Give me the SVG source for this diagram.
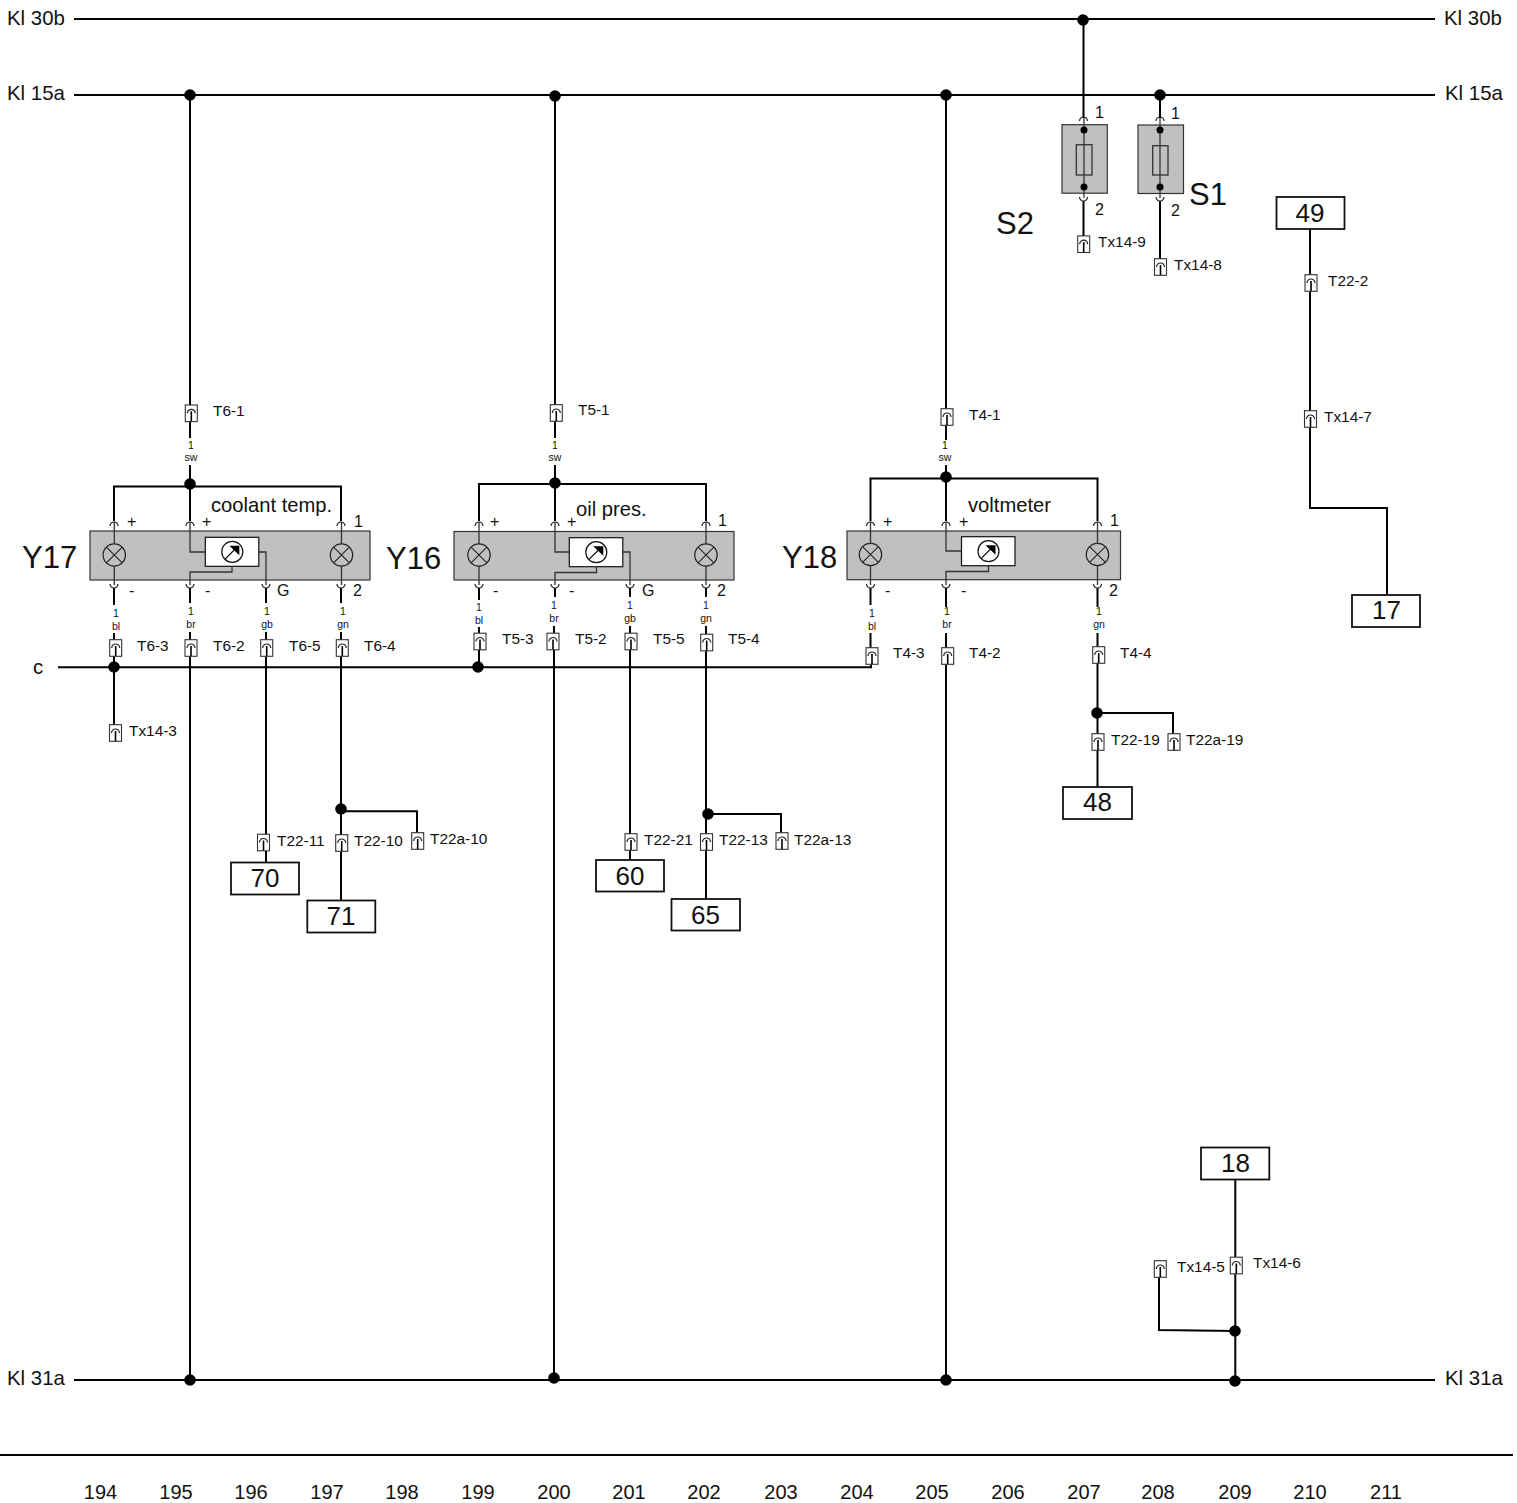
<svg xmlns="http://www.w3.org/2000/svg" width="1517" height="1503" viewBox="0 0 1517 1503">
<style>
text{font-family:"Liberation Sans",Arial,sans-serif;fill:#111}
.w{fill:none;stroke:#000;stroke-width:2}
.t{fill:none;stroke:#333;stroke-width:1.3}
.m{fill:#c0c0c0;stroke:#333;stroke-width:1.2}
.b{fill:#fff;stroke:#111;stroke-width:1.8}
.rail{font-size:20.400px}.tl{font-size:15.400px}.pin{font-size:16px}.wl{font-size:10.500px}.ruler{font-size:20px}.ref{font-size:26px}.big{font-size:31px}.cap{font-size:20.200px}
</style>
<defs>
<g id="conn"><rect x="-6" y="-8.300" width="12" height="16.600" fill="#fff" stroke="#333" stroke-width="1.100"/><path d="M-4 0A4 4 0 0 1 4 0" fill="none" stroke="#222" stroke-width="1.200"/><path d="M0 -2V8" stroke="#000" stroke-width="1.600"/></g>
<g id="lamp"><circle r="11.200" fill="none" stroke="#222" stroke-width="1.200"/><path d="M-7.900 -7.900L7.900 7.900M-7.900 7.900L7.900 -7.900" stroke="#222" stroke-width="1.100"/></g>
<g id="gauge"><rect width="53.500" height="29" fill="#fff" stroke="#111" stroke-width="1.200"/><circle cx="27" cy="14.500" r="10.500" fill="#fff" stroke="#111" stroke-width="1.200"/><path d="M19.500 22L30 11.500" stroke="#000" stroke-width="1.200"/><path d="M24 8.500H34V18Z" fill="#000"/></g>
<path id="up" d="M-4 4A4 4 0 0 1 4 4" fill="none" stroke="#222" stroke-width="1.200"/>
<path id="dn" d="M-4 -4A4 4 0 0 0 4 -4" fill="none" stroke="#222" stroke-width="1.200"/>
<circle id="dot" r="5.800" fill="#000"/>
<circle id="dots" r="3.500" fill="#000"/>
</defs>
<g id="connectors">
<path class="w" d="M74 19H1435M74 95H1435M74 1380H1435"/>
<path d="M0 1455H1513" stroke="#000" stroke-width="2"/>
<path class="w" d="M190 95V405M190 421V438M190 465V521M114 521V486.500H341V521"/>
<path class="w" d="M555 96V405M555 421V438M555 465V521M479 521V484H706V521"/>
<path class="w" d="M946 95V409M946 425V440M946 465V521M870.500 521V478.500H1097.500V521"/>
<path class="w" d="M114 588V605M190 588V603M266 588V603M341 588V603M114 633V640M190 632V640M266 632V640M341 632V640"/>
<path class="w" d="M479 588V600M555 588V597M630 588V597M706 588V597M479 627V633M554 626V633M630 626V633M706 626V634"/>
<path class="w" d="M870.500 588V605M946 588V607M1097.500 588V607M870.500 633V648M946 633V648M1097.500 633V647"/>
<path class="w" d="M58 667.300H871V664M114 656V725M190 656V1380M266 656V835M266 851V862M341 656V835M341 851V900M341 811.300H417V833"/>
<path class="w" d="M479 650V667M554 650V1378M630 650V834M630 850V860M706 651V834M706 850V899M706 814H781V833"/>
<path class="w" d="M946 664V1380M1097.500 663V734M1097.500 750V787M1097 713H1173V734"/>
<path class="w" d="M1083.500 19V118M1083.500 201V236M1160 95V118M1160 201V259"/>
<path class="w" d="M1310 229V275M1310 291V411M1310 427V508H1387V595"/>
<path class="w" d="M1235.300 1179V1257M1235.300 1274V1381M1159 1277V1330L1235 1331"/>
<g id="junctions">
<use href="#dot" x="1083" y="20"/><use href="#dot" x="1160" y="95"/><use href="#dot" x="190" y="95"/><use href="#dot" x="555" y="96"/><use href="#dot" x="946" y="95"/>
<use href="#dot" x="190" y="1380"/><use href="#dot" x="554" y="1378"/><use href="#dot" x="946" y="1380"/><use href="#dot" x="1235" y="1381"/><use href="#dot" x="1235" y="1331"/>
<use href="#dot" x="190" y="484"/><use href="#dot" x="555" y="483"/><use href="#dot" x="946" y="477"/>
<use href="#dot" x="114" y="667"/><use href="#dot" x="478" y="667"/>
<use href="#dot" x="341" y="809"/><use href="#dot" x="708" y="814"/><use href="#dot" x="1097" y="713"/>
</g>
</g>
<g id="rail-labels" class="rail">
<text x="7" y="25">Kl 30b</text><text x="1444" y="25">Kl 30b</text>
<text x="7" y="100">Kl 15a</text><text x="1445" y="100">Kl 15a</text>
<text x="7" y="1385">Kl 31a</text><text x="1445" y="1385">Kl 31a</text>
<text x="33" y="674">c</text>
</g>
<g id="Y17">
<rect class="m" x="90" y="531" width="280" height="49"/>
<use href="#gauge" x="205.300" y="537.300"/>
<use href="#lamp" x="114.300" y="555"/><use href="#lamp" x="341.500" y="555"/>
<path class="t" d="M114.300 522V544M114.300 566V585M341.500 522V544M341.500 566V585M190 522V552H205M190 585V572H232V566M258.800 552H266V585"/>
<use href="#up" x="114" y="522"/><use href="#up" x="190" y="522"/><use href="#up" x="341" y="522"/>
<use href="#dn" x="114" y="588"/><use href="#dn" x="190" y="588"/><use href="#dn" x="266" y="588"/><use href="#dn" x="341" y="588"/>
<text class="cap" x="211" y="512">coolant temp.</text>
<text class="big" x="22" y="568">Y17</text>
<g class="pin"><text x="127" y="527">+</text><text x="202" y="527">+</text><text x="354" y="527">1</text>
<text x="129" y="596">-</text><text x="205" y="596">-</text><text x="277" y="596">G</text><text x="353" y="596">2</text></g>
</g>
<g id="Y16">
<rect class="m" x="454" y="531.500" width="280" height="48.500"/>
<use href="#gauge" x="569.300" y="537.700"/>
<use href="#lamp" x="479" y="555"/><use href="#lamp" x="706" y="555"/>
<path class="t" d="M479 522V544M479 566V585M706 522V544M706 566V585M555 522V552H569M555 585V572.500H596.500V567M623 552H630V585"/>
<use href="#up" x="479" y="522"/><use href="#up" x="555" y="522"/><use href="#up" x="706" y="522"/>
<use href="#dn" x="479" y="588"/><use href="#dn" x="555" y="588"/><use href="#dn" x="630" y="588"/><use href="#dn" x="706" y="588"/>
<text class="cap" x="576" y="516">oil pres.</text>
<text class="big" x="386" y="569">Y16</text>
<g class="pin"><text x="490" y="527">+</text><text x="567" y="527">+</text><text x="718" y="526">1</text>
<text x="493" y="596">-</text><text x="569" y="596">-</text><text x="642" y="596">G</text><text x="717" y="596">2</text></g>
</g>
<g id="Y18">
<rect class="m" x="847" y="531" width="273.500" height="48.700"/>
<use href="#gauge" x="961.500" y="536.700"/>
<use href="#lamp" x="870.500" y="554.500"/><use href="#lamp" x="1097.500" y="554.500"/>
<path class="t" d="M870.500 522V543M870.500 566V585M1097.500 522V543M1097.500 566V585M946 522V551H961M946 585V571.500H988.500V566"/>
<use href="#up" x="870.500" y="522"/><use href="#up" x="946" y="522"/><use href="#up" x="1097.500" y="522"/>
<use href="#dn" x="870.500" y="588"/><use href="#dn" x="946" y="588"/><use href="#dn" x="1097.500" y="588"/>
<text class="cap" x="968" y="512">voltmeter</text>
<text class="big" x="782" y="568">Y18</text>
<g class="pin"><text x="883" y="527">+</text><text x="959" y="527">+</text><text x="1110" y="526">1</text>
<text x="885" y="596">-</text><text x="961" y="596">-</text><text x="1109" y="596">2</text></g>
</g>
<g id="wire-labels" class="wl" text-anchor="middle">
<text x="191" y="449">1</text><text x="191" y="461">sw</text><text x="555" y="449">1</text><text x="555" y="461">sw</text><text x="945" y="449">1</text><text x="945" y="461">sw</text>
<text x="116" y="617">1</text><text x="116" y="630">bl</text><text x="191" y="615">1</text><text x="191" y="628">br</text><text x="267" y="615">1</text><text x="267" y="628">gb</text><text x="343" y="615">1</text><text x="343" y="628">gn</text>
<text x="479" y="611">1</text><text x="479" y="624">bl</text><text x="554" y="609">1</text><text x="554" y="622">br</text><text x="630" y="609">1</text><text x="630" y="622">gb</text><text x="706" y="609">1</text><text x="706" y="622">gn</text>
<text x="872" y="617">1</text><text x="872" y="630">bl</text><text x="947" y="615">1</text><text x="947" y="628">br</text><text x="1099" y="615">1</text><text x="1099" y="628">gn</text>
</g>
<g id="terminals" class="tl">
<g id="T6-1"><use href="#conn" x="191.300" y="413.300"/><text x="213" y="416">T6-1</text></g>
<g id="T5-1"><use href="#conn" x="556.300" y="413"/><text x="578" y="415">T5-1</text></g>
<g id="T4-1"><use href="#conn" x="947" y="417"/><text x="969" y="420">T4-1</text></g>
<g id="T6-3"><use href="#conn" x="115.700" y="648"/><text x="137" y="651">T6-3</text></g>
<g id="T6-2"><use href="#conn" x="191" y="648"/><text x="213" y="651">T6-2</text></g>
<g id="T6-5"><use href="#conn" x="266.700" y="648"/><text x="289" y="651">T6-5</text></g>
<g id="T6-4"><use href="#conn" x="342.300" y="648"/><text x="364" y="651">T6-4</text></g>
<g id="T5-3"><use href="#conn" x="480" y="641.500"/><text x="502" y="644">T5-3</text></g>
<g id="T5-2"><use href="#conn" x="553" y="641.500"/><text x="575" y="644">T5-2</text></g>
<g id="T5-5"><use href="#conn" x="631" y="641.500"/><text x="653" y="644">T5-5</text></g>
<g id="T5-4"><use href="#conn" x="706.700" y="642.500"/><text x="728" y="644">T5-4</text></g>
<g id="T4-3"><use href="#conn" x="872" y="656"/><text x="893" y="658">T4-3</text></g>
<g id="T4-2"><use href="#conn" x="947.700" y="656"/><text x="969" y="658">T4-2</text></g>
<g id="T4-4"><use href="#conn" x="1098.700" y="655"/><text x="1120" y="658">T4-4</text></g>
<g id="Tx14-3"><use href="#conn" x="115.500" y="733"/><text x="129" y="736">Tx14-3</text></g>
<g id="T22-11"><use href="#conn" x="263.500" y="842.500"/><text x="277" y="846">T22-11</text></g>
<g id="T22-10"><use href="#conn" x="341.700" y="843"/><text x="354" y="846">T22-10</text></g>
<g id="T22a-10"><use href="#conn" x="417.700" y="841"/><text x="430" y="844">T22a-10</text></g>
<g id="T22-21"><use href="#conn" x="631" y="842"/><text x="644" y="845">T22-21</text></g>
<g id="T22-13"><use href="#conn" x="706.500" y="842"/><text x="719" y="845">T22-13</text></g>
<g id="T22a-13"><use href="#conn" x="782" y="841"/><text x="794" y="845">T22a-13</text></g>
<g id="T22-19"><use href="#conn" x="1098" y="742"/><text x="1111" y="745">T22-19</text></g>
<g id="T22a-19"><use href="#conn" x="1174" y="742"/><text x="1186" y="745">T22a-19</text></g>
<g id="Tx14-9"><use href="#conn" x="1083.700" y="244.200"/><text x="1098" y="247">Tx14-9</text></g>
<g id="Tx14-8"><use href="#conn" x="1160.500" y="267"/><text x="1174" y="270">Tx14-8</text></g>
<g id="T22-2"><use href="#conn" x="1311" y="283"/><text x="1328" y="286">T22-2</text></g>
<g id="Tx14-7"><use href="#conn" x="1310.500" y="419"/><text x="1324" y="422">Tx14-7</text></g>
<g id="Tx14-5"><use href="#conn" x="1160.300" y="1269"/><text x="1177" y="1272">Tx14-5</text></g>
<g id="Tx14-6"><use href="#conn" x="1236.300" y="1265.500"/><text x="1253" y="1268">Tx14-6</text></g>
</g>
<g id="S2">
<rect class="m" x="1062" y="124.700" width="45.300" height="68.500"/><rect class="t" x="1076.300" y="144.700" width="15.700" height="30.300"/>
<path class="t" d="M1084 118V198"/><use href="#up" x="1083.500" y="117"/><use href="#dn" x="1083.500" y="201"/><use href="#dots" x="1084" y="130"/><use href="#dots" x="1084" y="187"/>
<text class="pin" x="1095" y="118">1</text><text class="pin" x="1095" y="215">2</text><text class="big" x="996" y="234">S2</text>
</g>
<g id="S1">
<rect class="m" x="1138" y="125" width="45.500" height="68.500"/><rect class="t" x="1152.700" y="145.700" width="15.300" height="29.300"/>
<path class="t" d="M1160 118V198"/><use href="#up" x="1160" y="117"/><use href="#dn" x="1160" y="201"/><use href="#dots" x="1160" y="130"/><use href="#dots" x="1160" y="187"/>
<text class="pin" x="1171" y="119">1</text><text class="pin" x="1171" y="216">2</text><text class="big" x="1189" y="205">S1</text>
</g>
<g id="refs" class="ref" text-anchor="middle">
<g id="ref-49"><rect class="b" x="1276.500" y="197" width="68" height="32"/><text x="1310" y="222">49</text></g>
<g id="ref-17"><rect class="b" x="1352" y="595" width="68" height="32"/><text x="1386.500" y="619">17</text></g>
<g id="ref-48"><rect class="b" x="1063" y="787" width="69" height="32"/><text x="1097.500" y="811">48</text></g>
<g id="ref-70"><rect class="b" x="231" y="862.500" width="68" height="32"/><text x="265" y="887">70</text></g>
<g id="ref-71"><rect class="b" x="307.300" y="900.500" width="68" height="32"/><text x="341" y="925">71</text></g>
<g id="ref-60"><rect class="b" x="596" y="860" width="68" height="31.500"/><text x="630" y="885">60</text></g>
<g id="ref-65"><rect class="b" x="671.500" y="899" width="68.500" height="31.500"/><text x="705.500" y="924">65</text></g>
<g id="ref-18"><rect class="b" x="1201" y="1147.500" width="68.300" height="32"/><text x="1235.500" y="1172">18</text></g>
</g>
<g id="ruler" class="ruler" text-anchor="middle">
<text x="100.500" y="1499">194</text><text x="176" y="1499">195</text><text x="251" y="1499">196</text><text x="327" y="1499">197</text><text x="402" y="1499">198</text><text x="478" y="1499">199</text><text x="554" y="1499">200</text><text x="629" y="1499">201</text><text x="704" y="1499">202</text><text x="781" y="1499">203</text><text x="857" y="1499">204</text><text x="932" y="1499">205</text><text x="1008" y="1499">206</text><text x="1084" y="1499">207</text><text x="1158" y="1499">208</text><text x="1235" y="1499">209</text><text x="1310" y="1499">210</text><text x="1386" y="1499">211</text>
</g>
</svg>
